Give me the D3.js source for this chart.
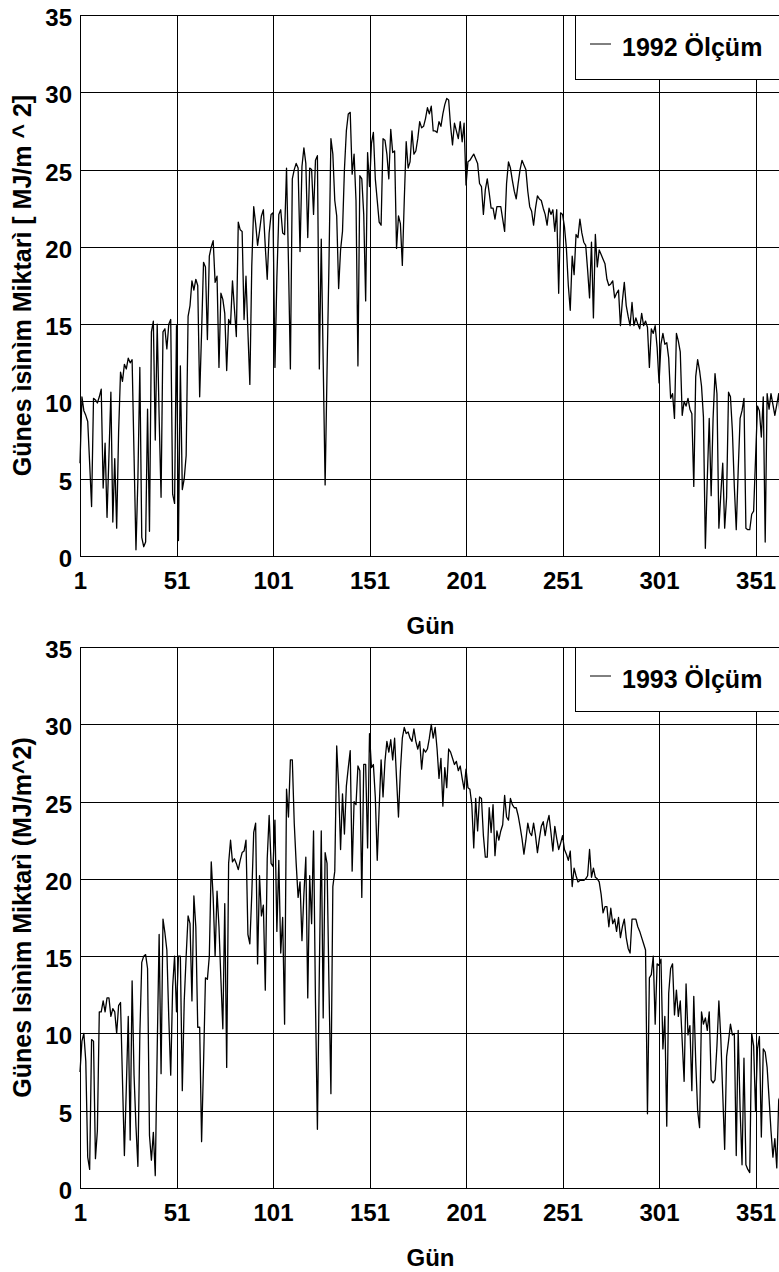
<!DOCTYPE html>
<html>
<head>
<meta charset="utf-8">
<script src="https://cdn.jsdelivr.net/npm/d3@7"></script>
<style>
  body { margin: 0; background: #fff; }
  svg text { font-family: "Liberation Sans", Arial, Helvetica, sans-serif; font-weight: bold; fill: #000; }
</style>
</head>
<body>
<svg id="chart" width="779" height="1272"></svg>
<script>
// eksen degerleri
var gunTicks = [1, 51, 101, 151, 201, 251, 301, 351]
var degerTicks = [0, 5, 10, 15, 20, 25, 30, 35]

// 1992 gunluk olcum (MJ/m^2)
var olcum1992 = [
  6, 10.3, 9.4, 9.1, 8.7, 6, 3.2, 10.2, 10.1, 9.9,
  10.3, 10.8, 4.4, 7.3, 2.5, 6.5, 10.6, 2.2, 6.3, 1.8,
  8, 11.9, 11.3, 12.4, 12.1, 12.8, 12.5, 12.7, 6.5, 0.4,
  5, 12.2, 1.2, 0.6, 0.9, 9.5, 1.6, 14.5, 15.2, 7.5,
  15, 9, 3.8, 14.5, 14.7, 13.4, 15, 15.3, 4, 3.4,
  14.9, 1, 12.3, 4.3, 5, 6.5, 15.5, 16.2, 17.8, 17.2,
  17.9, 17.5, 10.3, 14.5, 19, 18.7, 14, 19.4, 20, 20.4,
  17.7, 18.1, 12.2, 17, 16.6, 15.7, 12, 15.3, 15, 17.8,
  16, 14.2, 21.6, 21.1, 21, 15.3, 18.1, 14.5, 11.1, 18.8,
  22.6, 21.5, 20.1, 21, 22, 22.4, 20, 17.9, 20.9, 22.1,
  22.2, 12.2, 18, 22.1, 22.4, 20.9, 20.8, 25.1, 19, 12.1,
  24.4, 25, 25.4, 25.1, 19.7, 25.2, 26.4, 25.4, 20.6, 25.1,
  25, 22.1, 25.6, 25.9, 12.1, 20.5, 12.5, 4.6, 12, 19,
  27, 26, 23, 22, 17.3, 19.8, 21, 25, 27.5, 28.6,
  28.7, 24.7, 26, 23, 12.3, 24.6, 24.4, 22.1, 16.5, 26.1,
  23.9, 26.7, 27.4, 24.4, 23, 21.6, 21.4, 27, 26.9, 26,
  24.4, 27.6, 26.1, 26.2, 19.9, 22, 21.5, 18.8, 23, 26.8,
  25.1, 25.5, 27.5, 26, 26.2, 27, 28.1, 27.7, 27.8, 28.3,
  29, 28.6, 29.1, 27.5, 27.5, 27.4, 28.1, 27.8, 28.6, 29.2,
  29.6, 29.5, 27.8, 26.6, 28, 27.5, 27, 28.1, 26.8, 28,
  24, 25.5, 25.6, 25.8, 26, 25.7, 25.4, 24.1, 23.9, 22.1,
  23.7, 24.4, 23.5, 22.5, 22.5, 21.8, 22.6, 22.6, 22.6, 21.8,
  21, 24.1, 25.5, 25.1, 24.3, 23.6, 23.1, 24.1, 25, 25.6,
  25.3, 25, 23.6, 22.6, 22.3, 21.4, 22.5, 23.3, 23.1, 23,
  22.5, 22.1, 21.4, 22.5, 22.1, 22.4, 21, 22.4, 17, 22.2,
  22.1, 21.3, 19.9, 17.5, 15.9, 19.4, 18.2, 20.8, 20.6, 21.8,
  20.9, 20.3, 20.1, 18.5, 16.7, 20.3, 15.4, 20.8, 18.7, 19.8,
  19.5, 19.2, 18.9, 17.9, 17.5, 17.6, 17.8, 16.7, 17, 17.2,
  14.9, 16.5, 17.7, 16.2, 15.5, 14.9, 16.4, 14.9, 15.4, 15,
  14.7, 15.7, 14.9, 15.2, 14.8, 12.2, 14.7, 14.4, 14.9, 13.5,
  11.2, 13.7, 14.4, 13.7, 13.8, 12.8, 10.2, 10.5, 8.9, 14.4,
  13.9, 13.2, 9.1, 10, 9.7, 10.2, 9.5, 9.2, 4.5, 11.6,
  12.7, 12, 11, 9, 0.5, 5, 8.9, 3.9, 8.9, 11.8,
  10.5, 1.8, 4, 6, 1.8, 3.8, 10.6, 10.3, 8.1, 4.5,
  1.7, 5.5, 8.9, 9.4, 10.2, 1.8, 1.7, 1.7, 2.7, 2.9,
  6.3, 9.7, 9.4, 7.7, 10.3, 0.9, 10.5, 9.5, 10.5, 9.8,
  9.1, 9.8, 10.5, 8.3, 9
]

// 1993 gunluk olcum (MJ/m^2)
var olcum1993 = [
  7.5, 9.5, 10, 8.2, 2, 1.2, 9.6, 9.5, 1.9, 3.7,
  11.4, 11.4, 12.1, 11.4, 12.3, 12.3, 11.1, 11.6, 11.4, 10,
  11.8, 12, 7, 2.1, 6.5, 11.1, 3.1, 13.4, 7.3, 4,
  1.4, 9.9, 14.6, 15, 15.1, 14.2, 3.4, 1.8, 3.6, 0.8,
  9, 16.4, 7.4, 17.4, 16.5, 15.4, 11, 7.3, 13, 15,
  11.4, 15, 15, 6.3, 12.1, 15, 17.6, 17.1, 12.1, 18.9,
  16.9, 10.4, 10.4, 3, 8, 13.6, 13.5, 15, 21.1, 18.8,
  15, 19.2, 16.9, 13.5, 10.3, 18.4, 7.8, 21, 22.5, 21.1,
  21.3, 21, 20.6, 21.2, 21.7, 21.8, 22.5, 16.4, 15.8, 19,
  23, 23.6, 14.5, 20.2, 17.6, 18.3, 12.8, 21.3, 24.1, 21,
  20.8, 23.8, 16.6, 21.2, 15.2, 17.5, 10.6, 25.8, 24, 27.7,
  27.7, 23.6, 21, 18.8, 19.8, 16, 19, 21.4, 12.3, 20.2,
  17.1, 23.1, 12, 3.8, 14, 23.1, 11, 21.7, 21, 13,
  6.1, 19.5, 20.5, 28.6, 26, 21.9, 25.5, 22.9, 26, 27.2,
  28.3, 20.5, 25, 24.8, 27.3, 27, 18.8, 27.4, 27.4, 22,
  29.4, 27.2, 27.4, 25.3, 21.2, 24.6, 27.7, 25.3, 27.6, 28.9,
  28.2, 29, 27.7, 29.1, 26.5, 24, 27, 29.1, 29.8, 29.4,
  29.5, 29.1, 28.9, 29.7, 28.9, 28.4, 28.9, 27.1, 28.4, 28.2,
  28.4, 29.1, 30, 29.1, 29.8, 28.4, 26.5, 27.8, 24.7, 27.2,
  25.9, 28.4, 28.2, 27.8, 27.4, 27.6, 27, 27.3, 26.5, 25.8,
  27.1, 25.9, 25.8, 24.8, 22, 25.2, 23.1, 25.3, 25.2, 22.8,
  21.4, 21.4, 24.6, 23, 24.8, 21.5, 23.1, 22.5, 23.1, 23.5,
  25.4, 24, 23.8, 25.2, 24.8, 24.6, 24.6, 24.1, 23.4, 22.6,
  21.6, 22.5, 23.6, 23, 22.8, 23.6, 22.8, 21.7, 22.6, 23.4,
  23.7, 22.8, 23.6, 24.1, 23, 21.8, 23.4, 22.6, 21.9, 22.3,
  22.8, 21.9, 21.6, 21.2, 21.8, 19.5, 20.7, 20.2, 19.8, 19.9,
  19.9, 19.9, 20, 20.2, 21.9, 20.1, 20.7, 20.1, 20, 19.8,
  19, 17.8, 18.2, 18.2, 16.9, 18.1, 17.1, 17.4, 16.6, 17.5,
  16.2, 16.9, 17.4, 16.2, 15.5, 15.2, 17.4, 17.4, 17.4, 16.9,
  16.6, 16.2, 15.8, 15.4, 4.8, 13.6, 13.8, 15, 10.6, 14.5,
  14.4, 14.8, 9, 11.1, 4, 12.6, 14.2, 14.5, 11.2, 12.8,
  11.1, 12.1, 9.5, 6.9, 13.2, 9.9, 10.5, 6.3, 12.4, 8.2,
  5, 3.9, 11.4, 10.6, 11, 10.2, 11.4, 7, 6.8, 7,
  9.2, 12.1, 9.7, 6.1, 2.5, 8.5, 9.5, 10.6, 9.9, 10,
  2.1, 10.2, 5.1, 1.5, 8.4, 1.5, 1.2, 1, 10, 9.2,
  5, 9, 9.8, 3.3, 9, 8.8, 7.8, 5.8, 3.7, 2,
  3.2, 1.3, 5.7, 6, 6
]

var gunler = d3.range(1, olcum1992.length + 1)

var panels = [
  { legend: '1992 Ölçüm', ylabel: 'Günes ìsìnìm Miktarì [ MJ/m ^ 2]', values: olcum1992, top: 15 },
  { legend: '1993 Ölçüm', ylabel: 'Günes Isìnìm Miktarì (MJ/m^2)', values: olcum1993, top: 647 },
]

var left = 80, right = 784.5, plotH = 541
var svg = d3.select('#chart')

function styleAxis(g) {
  g.attr('font-size', 24).attr('font-family', null)
  g.select('.domain').remove()
  g.selectAll('.tick line')
    .attr('stroke', '#000')
    .attr('stroke-width', 1)
    .attr('shape-rendering', 'crispEdges')
}

panels.forEach(function(p) {
  var bottom = p.top + plotH
  var x = d3.scaleLinear().domain([1, 366]).range([left, right])
  var y = d3.scaleLinear().domain([0, 35]).range([bottom, p.top])
  var g = svg.append('g')

  // yatay izgara + deger etiketleri
  g.append('g')
    .attr('transform', 'translate(' + left + ',0)')
    .call(d3.axisLeft(y).tickValues(degerTicks).tickSize(-(right - left)).tickPadding(8))
    .call(styleAxis)
    .selectAll('text').attr('dy', '0.44em')

  // dikey izgara + gun etiketleri
  g.append('g')
    .attr('transform', 'translate(0,' + bottom + ')')
    .call(d3.axisBottom(x).tickValues(gunTicks).tickSize(-plotH).tickPadding(16))
    .call(styleAxis)

  // olcum cizgisi
  var line = d3.line()
    .x(function(d, i) { return x(gunler[i]) })
    .y(function(d) { return y(d) })
  g.append('path')
    .datum(p.values)
    .attr('fill', 'none')
    .attr('stroke', '#000')
    .attr('stroke-width', 1.3)
    .attr('stroke-linejoin', 'round')
    .attr('d', line)

  // eksen basliklari
  g.append('text')
    .attr('x', 430.5)
    .attr('y', bottom + 78)
    .attr('text-anchor', 'middle')
    .attr('font-size', 24)
    .text('Gün')
  g.append('text')
    .attr('transform', 'translate(31,' + (p.top + bottom) / 2 + ') rotate(-90)')
    .attr('text-anchor', 'middle')
    .attr('font-size', 25)
    .text(p.ylabel)

  // lejant
  var leg = g.append('g').attr('transform', 'translate(575,' + p.top + ')')
  leg.append('rect')
    .attr('width', 260)
    .attr('height', 64)
    .attr('fill', '#fff')
    .attr('stroke', '#000')
    .attr('shape-rendering', 'crispEdges')
  leg.append('line')
    .attr('x1', 15).attr('x2', 36)
    .attr('y1', 29).attr('y2', 29)
    .attr('stroke', '#000')
    .attr('stroke-width', 1)
  leg.append('text')
    .attr('x', 47)
    .attr('y', 41)
    .attr('font-size', 25)
    .text(p.legend)
})
</script>
</body>
</html>
